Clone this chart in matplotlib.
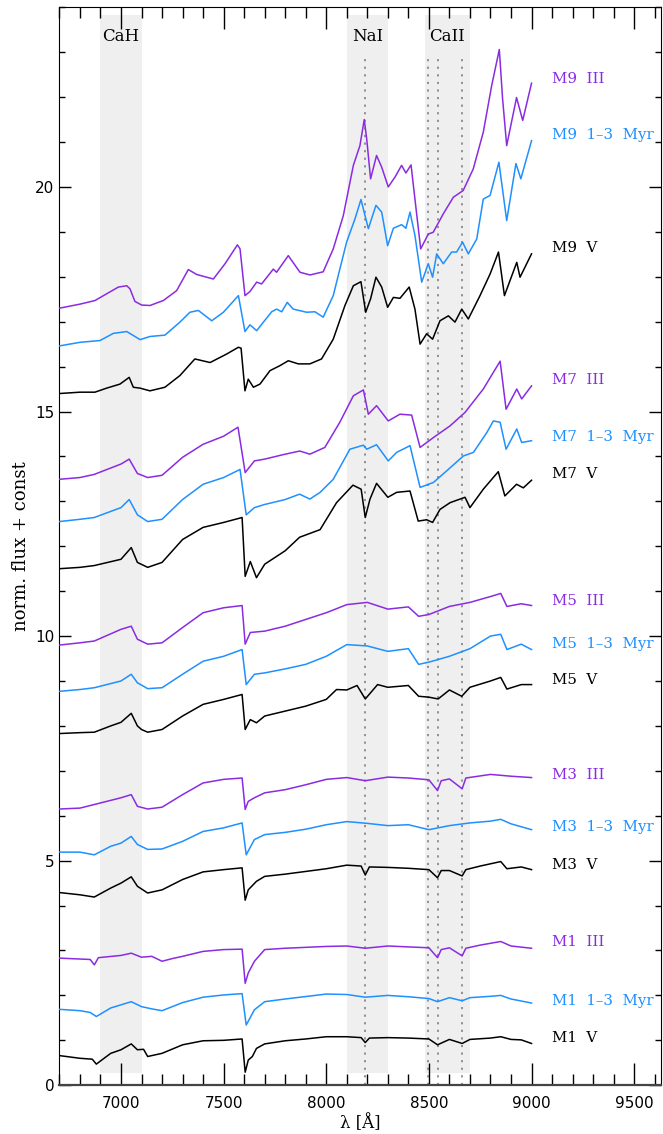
import matplotlib
matplotlib.use('Agg')
import matplotlib.pyplot as plt
from matplotlib.ticker import MultipleLocator

# spectra: wavelength [A] and normalised flux + offset
m1v_w = [6700, 6800, 6860, 6880, 6900, 6950, 7000, 7050, 7080, 7110, 7130, 7200, 7300, 7400, 7500, 7590, 7605, 7620,
         7640, 7660, 7700, 7800, 7900, 8000, 8100, 8170, 8190, 8210, 8300, 8400, 8500, 8542, 8600, 8662, 8700, 8800,
         8850, 8900, 8950, 9000]
m1v_f = [0.66, 0.60, 0.58, 0.47, 0.54, 0.71, 0.79, 0.92, 0.79, 0.80, 0.64, 0.71, 0.90, 0.99, 1.00, 1.03, 0.29, 0.56,
         0.64, 0.82, 0.92, 0.99, 1.03, 1.08, 1.08, 1.06, 0.95, 1.05, 1.06, 1.05, 1.03, 0.90, 1.02, 0.93, 1.02, 1.05,
         1.08, 1.02, 1.01, 0.93]

m1y_w = [6700, 6800, 6850, 6880, 6950, 7000, 7050, 7100, 7150, 7200, 7300, 7400, 7500, 7590, 7610, 7650, 7700, 7800,
         8000, 8100, 8190, 8300, 8400, 8500, 8542, 8600, 8662, 8700, 8800, 8850, 8900, 9000]
m1y_f = [1.69, 1.66, 1.62, 1.53, 1.72, 1.79, 1.86, 1.75, 1.70, 1.66, 1.84, 1.96, 2.01, 2.04, 1.34, 1.68, 1.86, 1.92,
         2.03, 2.02, 1.96, 2.00, 1.97, 1.93, 1.86, 1.95, 1.88, 1.95, 1.98, 2.00, 1.92, 1.83]

m1g_w = [6700, 6800, 6850, 6870, 6890, 7000, 7050, 7100, 7150, 7200, 7250, 7300, 7400, 7500, 7590, 7605, 7620, 7650,
         7700, 7800, 8000, 8100, 8190, 8300, 8400, 8500, 8542, 8560, 8600, 8662, 8680, 8750, 8850, 8900, 9000]
m1g_f = [2.83, 2.81, 2.80, 2.68, 2.84, 2.89, 2.94, 2.85, 2.87, 2.76, 2.82, 2.87, 2.98, 3.02, 3.03, 2.27, 2.50, 2.76,
         3.02, 3.05, 3.09, 3.10, 3.05, 3.10, 3.08, 3.06, 2.84, 3.02, 3.06, 2.88, 3.05, 3.12, 3.20, 3.10, 3.05]

m3v_w = [6700, 6800, 6870, 6950, 7000, 7050, 7080, 7130, 7200, 7300, 7400, 7500, 7590, 7605, 7620, 7660, 7700, 7800,
         7900, 8000, 8100, 8170, 8190, 8210, 8300, 8400, 8500, 8542, 8560, 8600, 8662, 8680, 8750, 8850, 8880, 8950,
         9000]
m3v_f = [4.29, 4.24, 4.19, 4.39, 4.50, 4.64, 4.43, 4.28, 4.35, 4.58, 4.75, 4.80, 4.84, 4.12, 4.35, 4.54, 4.65, 4.70,
         4.76, 4.82, 4.90, 4.88, 4.68, 4.86, 4.85, 4.83, 4.80, 4.62, 4.78, 4.78, 4.66, 4.80, 4.88, 4.98, 4.82, 4.86,
         4.80]

m3y_w = [6700, 6800, 6870, 6950, 7000, 7050, 7080, 7130, 7200, 7300, 7400, 7500, 7590, 7610, 7650, 7700, 7800, 7900,
         8000, 8100, 8200, 8300, 8400, 8500, 8600, 8700, 8800, 8850, 8900, 9000]
m3y_f = [5.19, 5.19, 5.13, 5.32, 5.39, 5.54, 5.36, 5.25, 5.26, 5.43, 5.65, 5.73, 5.84, 5.13, 5.47, 5.58, 5.63, 5.70,
         5.80, 5.87, 5.83, 5.78, 5.80, 5.69, 5.78, 5.84, 5.88, 5.92, 5.82, 5.69]

m3g_w = [6700, 6800, 6870, 7000, 7050, 7080, 7130, 7200, 7300, 7400, 7500, 7590, 7605, 7620, 7650, 7700, 7800, 7900,
         8000, 8100, 8190, 8300, 8400, 8500, 8542, 8560, 8600, 8662, 8680, 8800, 8900, 9000]
m3g_f = [6.15, 6.17, 6.25, 6.40, 6.47, 6.21, 6.15, 6.19, 6.47, 6.73, 6.81, 6.84, 6.14, 6.32, 6.40, 6.51, 6.58, 6.69,
         6.81, 6.85, 6.78, 6.86, 6.84, 6.80, 6.56, 6.78, 6.82, 6.60, 6.84, 6.92, 6.88, 6.85]

m5v_w = [6700, 6800, 6870, 6950, 7000, 7050, 7080, 7100, 7130, 7200, 7300, 7400, 7500, 7590, 7605, 7630, 7660, 7700,
         7800, 7900, 8000, 8050, 8100, 8150, 8190, 8250, 8300, 8400, 8450, 8500, 8545, 8600, 8660, 8700, 8800, 8850,
         8880, 8950, 9000]
m5v_f = [7.83, 7.85, 7.86, 8.00, 8.08, 8.28, 8.00, 7.92, 7.86, 7.92, 8.22, 8.48, 8.59, 8.70, 7.92, 8.14, 8.07, 8.22,
         8.33, 8.44, 8.59, 8.81, 8.80, 8.90, 8.60, 8.92, 8.86, 8.90, 8.66, 8.64, 8.60, 8.80, 8.66, 8.86, 9.00, 9.08,
         8.82, 8.92, 8.92]

m5y_w = [6700, 6800, 6870, 7000, 7050, 7080, 7130, 7200, 7300, 7400, 7500, 7590, 7610, 7650, 7700, 7800, 7900, 8000,
         8100, 8200, 8300, 8400, 8450, 8500, 8600, 8700, 8800, 8850, 8880, 8950, 9000]
m5y_f = [8.77, 8.81, 8.85, 9.00, 9.15, 8.96, 8.83, 8.85, 9.15, 9.44, 9.55, 9.70, 8.92, 9.15, 9.18, 9.27, 9.37, 9.55,
         9.81, 9.78, 9.66, 9.72, 9.37, 9.42, 9.55, 9.72, 10.00, 10.04, 9.70, 9.82, 9.70]

m5g_w = [6700, 6800, 6870, 7000, 7050, 7080, 7130, 7200, 7300, 7400, 7500, 7590, 7605, 7630, 7700, 7800, 7900, 8000,
         8100, 8200, 8300, 8400, 8450, 8500, 8600, 8700, 8800, 8850, 8880, 8950, 9000]
m5g_f = [9.80, 9.85, 9.89, 10.15, 10.22, 9.93, 9.82, 9.85, 10.19, 10.52, 10.63, 10.68, 9.82, 10.08, 10.11, 10.22, 10.37,
         10.52, 10.70, 10.75, 10.60, 10.65, 10.44, 10.48, 10.66, 10.75, 10.88, 10.95, 10.66, 10.72, 10.68]

m7v_w = [6700, 6800, 6870, 7000, 7050, 7080, 7130, 7200, 7300, 7400, 7500, 7590, 7605, 7630, 7660, 7700, 7800, 7870,
         7970, 8050, 8130, 8170, 8190, 8213, 8245, 8300, 8343, 8408, 8448, 8489, 8518, 8554, 8603, 8676, 8700, 8765,
         8838, 8870, 8927, 8960, 9000]
m7v_f = [11.50, 11.53, 11.57, 11.71, 11.97, 11.64, 11.53, 11.64, 12.15, 12.42, 12.53, 12.64, 11.33, 11.66, 11.30, 11.60,
         11.90, 12.20, 12.37, 12.97, 13.36, 13.27, 12.64, 13.05, 13.40, 13.09, 13.20, 13.23, 12.56, 12.59, 12.53, 12.82,
         12.97, 13.09, 12.86, 13.27, 13.66, 13.12, 13.38, 13.30, 13.47]

m7y_w = [6700, 6800, 6870, 7000, 7040, 7080, 7130, 7200, 7300, 7400, 7500, 7580, 7610, 7650, 7700, 7800, 7870, 7920,
         7970, 8034, 8115, 8181, 8197, 8245, 8302, 8343, 8408, 8457, 8522, 8587, 8668, 8717, 8782, 8814, 8847, 8876,
         8928, 8952, 9000]
m7y_f = [12.55, 12.60, 12.64, 12.86, 13.04, 12.70, 12.55, 12.60, 13.04, 13.38, 13.53, 13.71, 12.70, 12.86, 12.93, 13.04,
         13.16, 13.05, 13.20, 13.49, 14.16, 14.25, 14.16, 14.26, 13.90, 14.09, 14.24, 13.31, 13.42, 13.68, 14.01, 14.09,
         14.53, 14.79, 14.76, 14.16, 14.61, 14.31, 14.35]

m7g_w = [6700, 6800, 6870, 7000, 7040, 7080, 7130, 7200, 7300, 7400, 7500, 7570, 7605, 7650, 7700, 7800, 7871, 7920,
         7993, 8066, 8132, 8181, 8205, 8245, 8302, 8359, 8416, 8457, 8522, 8603, 8676, 8765, 8847, 8876, 8928, 8952,
         9000]
m7g_f = [13.49, 13.53, 13.60, 13.83, 13.94, 13.62, 13.53, 13.58, 13.98, 14.27, 14.45, 14.65, 13.64, 13.90, 13.94, 14.05,
         14.12, 14.05, 14.20, 14.76, 15.35, 15.48, 14.94, 15.13, 14.79, 14.94, 14.92, 14.20, 14.42, 14.68, 14.98, 15.50,
         16.12, 15.05, 15.50, 15.28, 15.57]

m9v_w = [6700, 6800, 6873, 6930, 6995, 7040, 7060, 7093, 7141, 7214, 7287, 7360, 7434, 7515, 7572, 7585, 7604, 7620,
         7645, 7677, 7726, 7774, 7815, 7864, 7920, 7977, 8034, 8091, 8132, 8169, 8192, 8216, 8242, 8270, 8299, 8327,
         8359, 8404, 8432, 8457, 8489, 8518, 8554, 8595, 8627, 8660, 8692, 8749, 8798, 8839, 8868, 8928, 8944, 9000]
m9v_f = [15.40, 15.43, 15.43, 15.52, 15.61, 15.76, 15.54, 15.52, 15.46, 15.54, 15.80, 16.17, 16.09, 16.28, 16.43, 16.41,
         15.46, 15.72, 15.54, 15.61, 15.91, 16.02, 16.13, 16.06, 16.06, 16.17, 16.61, 17.36, 17.80, 17.89, 17.21, 17.51,
         17.99, 17.77, 17.32, 17.54, 17.52, 17.77, 17.28, 16.50, 16.73, 16.61, 17.02, 17.13, 16.99, 17.28, 17.06, 17.58,
         18.06, 18.55, 17.58, 18.32, 17.99, 18.51]

m9y_w = [6700, 6800, 6898, 6963, 7028, 7068, 7093, 7141, 7214, 7287, 7336, 7377, 7442, 7499, 7572, 7604, 7628, 7661,
         7734, 7758, 7783, 7810, 7839, 7904, 7945, 7985, 8034, 8099, 8140, 8169, 8205, 8242, 8270, 8299, 8327, 8367,
         8388, 8408, 8432, 8465, 8497, 8518, 8538, 8570, 8611, 8635, 8664, 8692, 8733, 8765, 8798, 8841, 8879, 8924,
         8948, 9000]
m9y_f = [16.46, 16.54, 16.58, 16.74, 16.78, 16.67, 16.60, 16.67, 16.70, 16.99, 17.21, 17.25, 17.02, 17.21, 17.58, 16.78,
         16.93, 16.80, 17.22, 17.28, 17.22, 17.43, 17.28, 17.21, 17.22, 17.10, 17.58, 18.77, 19.29, 19.72, 19.07, 19.59,
         19.44, 18.69, 19.08, 19.16, 19.08, 19.44, 18.92, 17.88, 18.29, 17.99, 18.51, 18.29, 18.55, 18.55, 18.77, 18.51,
         18.84, 19.73, 19.81, 20.55, 19.25, 20.52, 20.18, 21.03]

m9g_w = [6700, 6800, 6873, 6930, 6987, 7028, 7044, 7068, 7101, 7141, 7206, 7271, 7328, 7369, 7450, 7507, 7567, 7580,
         7604, 7628, 7661, 7685, 7742, 7758, 7815, 7872, 7921, 7985, 8034, 8083, 8132, 8164, 8185, 8197, 8216, 8245,
         8270, 8302, 8335, 8367, 8388, 8413, 8432, 8460, 8497, 8521, 8570, 8619, 8667, 8716, 8765, 8806, 8843, 8859,
         8879, 8927, 8957, 9000]
m9g_f = [17.30, 17.39, 17.47, 17.62, 17.77, 17.80, 17.73, 17.45, 17.37, 17.36, 17.47, 17.69, 18.16, 18.05, 17.95, 18.29,
         18.71, 18.62, 17.58, 17.67, 17.88, 17.84, 18.17, 18.10, 18.47, 18.10, 18.04, 18.11, 18.62, 19.36, 20.48, 20.92,
         21.50, 21.07, 20.18, 20.70, 20.44, 20.00, 20.22, 20.48, 20.31, 20.49, 19.73, 18.62, 18.95, 18.99, 19.40, 19.77,
         19.92, 20.40, 21.22, 22.26, 23.06, 21.96, 20.92, 21.99, 21.48, 22.31]

labels = ['M1  V', 'M1  1\u20133  Myr', 'M1  III',
          'M3  V', 'M3  1\u20133  Myr', 'M3  III',
          'M5  V', 'M5  1\u20133  Myr', 'M5  III',
          'M7  V', 'M7  1\u20133  Myr', 'M7  III',
          'M9  V', 'M9  1\u20133  Myr', 'M9  III']
label_y = [1.05, 1.88, 3.19, 4.91, 5.76, 6.91, 9.03, 9.83, 10.79, 13.6, 14.43, 15.7, 18.64, 21.16, 22.4]

# shaded feature bands and line centres
bands = [(6900, 7100), (8100, 8300), (8480, 8700)]
band_names = ['CaH', 'NaI', 'CaII']
band_label_x = [7000, 8200, 8590]
line_centres = [8190, 8498, 8542, 8662]

waves = [m1v_w, m1y_w, m1g_w, m3v_w, m3y_w, m3g_w, m5v_w, m5y_w, m5g_w,
         m7v_w, m7y_w, m7g_w, m9v_w, m9y_w, m9g_w]
fluxes = [m1v_f, m1y_f, m1g_f, m3v_f, m3y_f, m3g_f, m5v_f, m5y_f, m5g_f,
          m7v_f, m7y_f, m7g_f, m9v_f, m9y_f, m9g_f]
colors = ['black', '#1e90ff', '#8a2be2'] * 5

fig = plt.figure(figsize=(6.63, 11.34), dpi=100)
ax = fig.add_axes([0.0896, 0.043, 0.9081, 0.9506])

for lo, hi in bands:
    ax.fill_between([lo, hi], 0.28, 23.82, color='#efefef', lw=0, zorder=0)
for lc in line_centres:
    ax.plot([lc, lc], [0, 22.95], color='#888888', lw=1.3, ls=(0, (1.2, 3)), zorder=1)
for name, bx in zip(band_names, band_label_x):
    ax.text(bx, 23.35, name, ha='center', va='center', fontsize=12, family='DejaVu Serif')

for w, f, c in zip(waves, fluxes, colors):
    ax.plot(w, f, color=c, lw=1.1, zorder=3)
for lab, ly, c in zip(labels, label_y, colors):
    ax.text(9100, ly, lab, color=c, ha='left', va='center', fontsize=10.8, family='DejaVu Serif')

ax.set_xlim(6700, 9633)
ax.set_ylim(0, 24)
ax.xaxis.set_major_locator(MultipleLocator(500))
ax.xaxis.set_minor_locator(MultipleLocator(100))
ax.yaxis.set_major_locator(MultipleLocator(5))
ax.yaxis.set_minor_locator(MultipleLocator(1))
ax.tick_params(which='both', direction='in', top=True, right=True, labelsize=11, width=1)
ax.tick_params(axis='x', which='major', length=15.5)
ax.tick_params(axis='x', which='minor', length=7.6)
ax.tick_params(axis='y', which='major', length=8.6)
ax.tick_params(axis='y', which='minor', length=4.3)
ax.tick_params(axis='x', pad=8)
ax.spines['bottom'].set_linewidth(1.6)
ax.spines['bottom'].set_color('#444444')

ax.set_xlabel('\u03bb [\u00c5]', family='DejaVu Serif', fontsize=12, labelpad=2)
ax.set_ylabel('norm. flux + const', family='DejaVu Serif', fontsize=13, labelpad=4)

fig.savefig('out.png', dpi=100)
